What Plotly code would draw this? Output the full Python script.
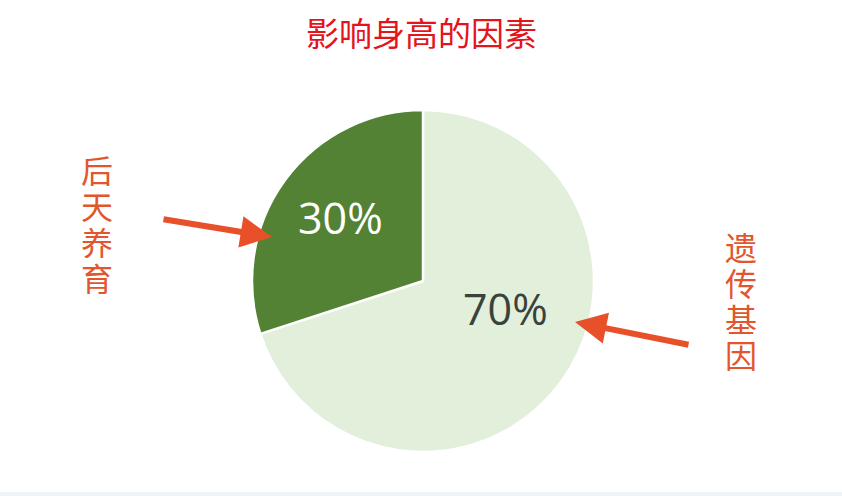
import plotly.graph_objects as go

# ---- data ----
categories = ["遗传基因", "后天养育"]
values = [70, 30]
slice_colors = ["#e2efda", "#548235"]
pct_text_colors = ["#3b413b", "#ffffff"]
title_text = "影响身高的因素"

W, H = 842, 496

def px(x, y):
    return x / W, 1 - y / H

fig = go.Figure()
fig.add_trace(go.Pie(
    labels=categories,
    values=values,
    sort=False,
    direction="clockwise",
    rotation=0,
    marker=dict(colors=slice_colors, line=dict(color="#ffffff", width=2.5)),
    textinfo="none",
    hoverinfo="label+percent",
    showlegend=False,
    domain=dict(x=[252 / W, 594 / W], y=[1 - 452 / H, 1 - 110 / H]),
))

annotations = []
# percentage labels
pct_pos = [(505, 308), (340, 218)]
for v, c, (x, y) in zip(values, pct_text_colors, pct_pos):
    xx, yy = px(x, y)
    annotations.append(dict(
        x=xx, y=yy, xref="paper", yref="paper", text=f"{v}%", showarrow=False,
        font=dict(family="Open Sans", size=43, color=c),
        xanchor="center", yanchor="middle"))

# vertical category labels (one character per line)
label_color = "#e2562d"
lab_pos = [(741, 300), (97, 223)]
step = 36
for name, (x, y) in zip(categories, lab_pos):
    n = len(name)
    for i, ch in enumerate(name):
        cy = y + (i - (n - 1) / 2) * step
        xx, yy = px(x, cy)
        annotations.append(dict(
            x=xx, y=yy, xref="paper", yref="paper", text=ch, height=step - 2,
            showarrow=False, font=dict(family="Noto Sans CJK SC", size=32, color=label_color),
            xanchor="center", yanchor="middle", valign="middle"))

# arrows
arrow_color = "#e8502a"
arrows = [((575, 322), (690, 345)), ((272, 237), (162, 219))]
for (hx, hy), (tx, ty) in arrows:
    xx, yy = px(hx, hy)
    annotations.append(dict(
        x=xx, y=yy, xref="paper", yref="paper", text="", showarrow=True,
        ax=tx - hx, ay=ty - hy, axref="pixel", ayref="pixel",
        arrowhead=2, arrowsize=1.05, arrowwidth=6, arrowcolor=arrow_color))

# title
tx, ty = px(421, 32)
annotations.append(dict(
    x=tx, y=ty, xref="paper", yref="paper", text=title_text, showarrow=False,
    font=dict(family="Noto Sans CJK SC", size=33, color="#e5131b"),
    xanchor="center", yanchor="middle"))

fig.update_layout(
    width=W, height=H, autosize=False,
    margin=dict(l=0, r=0, t=0, b=0),
    paper_bgcolor="#ffffff", plot_bgcolor="#ffffff",
    annotations=annotations,
    shapes=[dict(type="rect", xref="paper", yref="paper", x0=0, x1=1, y0=0, y1=4 / H,
                 fillcolor="#eef3f8", line=dict(width=0), layer="below")],
)

fig.write_html("out.html", config={"displayModeBar": False},
               post_script="document.body.style.margin='0';document.body.style.overflow='hidden';")
